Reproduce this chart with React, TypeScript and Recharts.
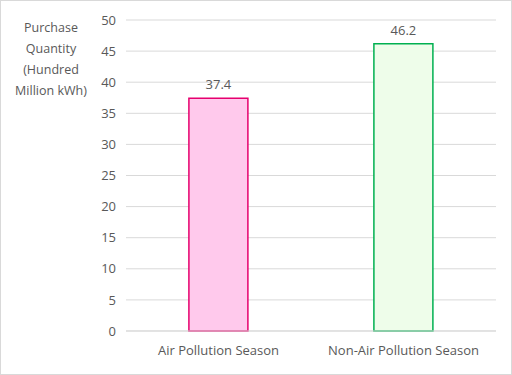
import React from "react";
import { BarChart, Bar, XAxis, YAxis, CartesianGrid, LabelList, Cell } from "recharts";

const categories = ["Air Pollution Season", "Non-Air Pollution Season"];
const values = [37.4, 46.2];
const fills = ["#FFC9EC", "#EEFDEA"];
const strokes = ["#E6006E", "#00B050"];
const yTicks = [0, 5, 10, 15, 20, 25, 30, 35, 40, 45, 50];
const yTitleLines = ["Purchase", "Quantity", "(Hundred", "Million kWh)"];

const data = categories.map((c, i) => ({ name: c, value: values[i] }));

const FONT = "'Open Sans', 'Noto Sans', sans-serif";
const TEXT = "#595959";

const YTitle = () => (
  <text x={51} y={32} textAnchor="middle" fill={TEXT} fontFamily={FONT} fontSize={12.5}>
    {yTitleLines.map((l, i) => (
      <tspan key={i} x={51} dy={i === 0 ? 0 : 21}>
        {l}
      </tspan>
    ))}
  </text>
);

export default function App() {
  return (
    <div
      style={{
        position: "absolute",
        left: 0,
        top: 0,
        width: 512,
        height: 375,
        boxSizing: "border-box",
        border: "1px solid #D9D9D9",
        background: "#fff",
      }}
    >
      <div style={{ position: "absolute", left: -1, top: -1 }}>
        <BarChart
          width={512}
          height={375}
          data={data}
          margin={{ top: 20, right: 16, bottom: 0, left: 0 }}
          barCategoryGap="34%"
        >
          <CartesianGrid vertical={false} stroke="#D9D9D9" />
          <XAxis
            dataKey="name"
            height={44}
            tickLine={false}
            axisLine={{ stroke: "#D9D9D9" }}
            tick={{ fill: TEXT, fontFamily: FONT, fontSize: 13 }}
            tickMargin={9}
          />
          <YAxis
            width={126}
            domain={[0, 50]}
            ticks={yTicks}
            tickLine={false}
            axisLine={false}
            tick={{ fill: TEXT, fontFamily: FONT, fontSize: 13 }}
            tickMargin={4}
            label={<YTitle />}
          />
          <Bar dataKey="value" isAnimationActive={false} strokeWidth={1.5}>
            {data.map((d, i) => (
              <Cell key={i} fill={fills[i]} stroke={strokes[i]} />
            ))}
            <LabelList
              dataKey="value"
              position="top"
              offset={9}
              fill={TEXT}
              fontFamily={FONT}
              fontSize={13}
            />
          </Bar>
        </BarChart>
      </div>
    </div>
  );
}
